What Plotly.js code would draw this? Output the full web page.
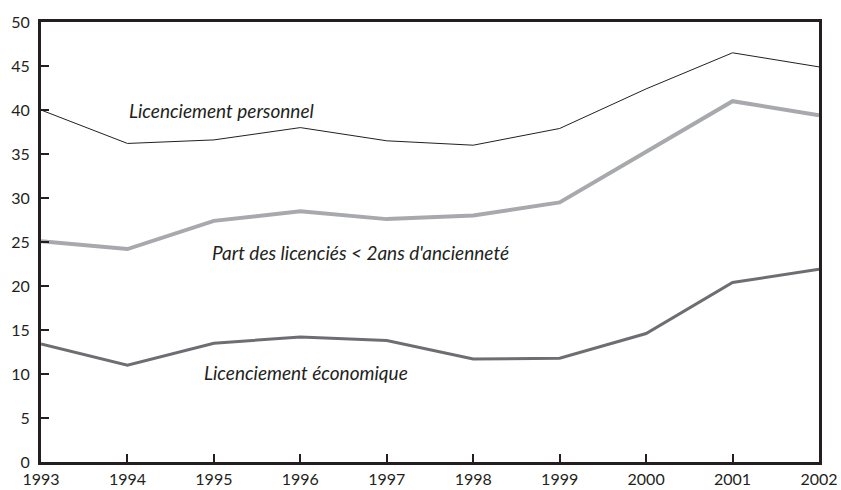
<!DOCTYPE html>
<html><head><meta charset="utf-8">
<script src="https://cdn.plot.ly/plotly-3.0.1.min.js"></script>
<style>html,body{margin:0;padding:0;background:#fff}#chart{width:841px;height:490px}</style>
</head><body><div id="chart"></div>
<script>
var years = [1993, 1994, 1995, 1996, 1997, 1998, 1999, 2000, 2001, 2002];
var licPersonnel = [40.0, 36.2, 36.6, 38.0, 36.5, 36.0, 37.9, 42.4, 46.5, 44.9];
var partMoins2ans = [25.1, 24.2, 27.4, 28.5, 27.6, 28.0, 29.5, 35.3, 41.0, 39.4];
var licEconomique = [13.4, 11.0, 13.5, 14.2, 13.8, 11.7, 11.8, 14.6, 20.4, 21.9];
var seriesLabels = ["Licenciement personnel", "Part des licenciés < 2ans d'ancienneté", "Licenciement économique"];
var yTicks = [0, 5, 10, 15, 20, 25, 30, 35, 40, 45, 50];

var axisColor = '#231f20';
var traces = [
  {x: years, y: licPersonnel, type: 'scatter', mode: 'lines', name: seriesLabels[0],
   line: {color: '#231f20', width: 1}},
  {x: years, y: partMoins2ans, type: 'scatter', mode: 'lines', name: seriesLabels[1],
   line: {color: '#a7a9ac', width: 4}},
  {x: years, y: licEconomique, type: 'scatter', mode: 'lines', name: seriesLabels[2],
   line: {color: '#6d6e71', width: 3}}
];
var fnt = {family: 'Lato, "Open Sans", sans-serif', size: 16, color: '#231f20'};
var annFnt = {family: 'Lato, "Open Sans", sans-serif', size: 19, color: '#231f20'};
var layout = {
  width: 841, height: 490,
  margin: {l: 41, r: 22, t: 22, b: 28},
  paper_bgcolor: '#fff', plot_bgcolor: '#fff',
  showlegend: false,
  font: fnt,
  xaxis: {
    range: [1993, 2002], tickvals: years, ticktext: years.map(String),
    ticks: 'inside', ticklen: 8, tickwidth: 2, tickcolor: axisColor,
    showline: true, linewidth: 3, linecolor: axisColor, mirror: true,
    showgrid: false, zeroline: false, tickfont: fnt, ticklabelstandoff: 1
  },
  yaxis: {
    range: [0, 50], tickvals: yTicks,
    ticks: 'inside', ticklen: 8, tickwidth: 2, tickcolor: axisColor,
    showline: true, linewidth: 3, linecolor: axisColor, mirror: true,
    showgrid: false, zeroline: false, tickfont: fnt, ticklabelstandoff: 5
  },
  annotations: [
    {x: 1994.0, y: 40.0, xanchor: 'left', yanchor: 'middle', showarrow: false,
     text: '<i>' + seriesLabels[0] + '</i>', font: annFnt},
    {x: 1994.95, y: 23.76, xanchor: 'left', yanchor: 'middle', showarrow: false,
     text: '<i>' + seriesLabels[1].replace('<', '&lt;') + '</i>', font: annFnt},
    {x: 1994.86, y: 10.17, xanchor: 'left', yanchor: 'middle', showarrow: false,
     text: '<i>' + seriesLabels[2] + '</i>', font: annFnt}
  ]
};
Plotly.newPlot('chart', traces, layout, {displayModeBar: false, staticPlot: true});
</script></body></html>
